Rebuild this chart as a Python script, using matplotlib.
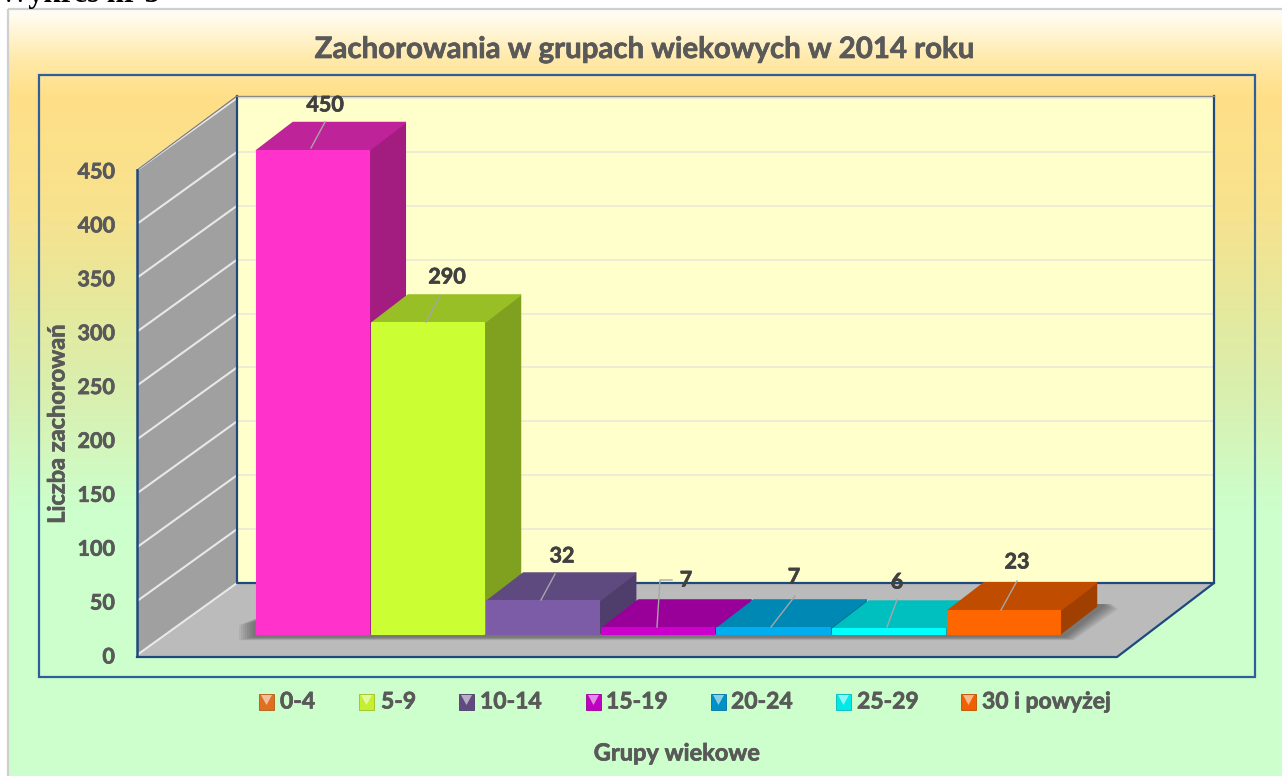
#!/usr/bin/env python3
"""Zachorowania w grupach wiekowych - 3D style column chart."""

import matplotlib

matplotlib.use("Agg")
import matplotlib.pyplot as plt
import matplotlib.patheffects as pe
import numpy as np
from matplotlib.colors import to_rgb
from matplotlib.patches import Polygon, Rectangle

groups = ["0-4", "5-9", "10-14", "15-19", "20-24", "25-29", "30 i powyżej"]
cases = [450, 290, 32, 7, 7, 6, 23]
y_ticks = [0, 50, 100, 150, 200, 250, 300, 350, 400, 450]

W, H = 1282, 776
PX_X0 = 255  # left edge of the first bar
PX_BAR = 115.2
PX_Y0 = 655  # value 0 on the front of the wall
PX_UNIT = 485 / 450

TEXT = "#595959"
BLUE = "#2F5F9A"
DARK_BLUE = "#1F497D"
FONT = ["Lato", "DejaVu Sans"]
# Lato bold is a bit lighter than the original face
HEAVY = [pe.withStroke(linewidth=0.5, foreground=TEXT)]
HEAVY_DARK = [pe.withStroke(linewidth=0.5, foreground="#404040")]

FRONT = ["#FF33CC", "#CCFF33", "#7C5CA6", "#CC00CC", "#00AEEF", "#00FFFF", "#FF6600"]
TOP = ["#BF2399", "#99BF26", "#5F4A80", "#990099", "#0088B4", "#00BFBF", "#C04C00"]
SIDE = ["#A31D80", "#80A020", "#4F3D6C", "#800080", "#007399", "#00A0A0", "#A04000"]
LEGEND = ["#E07020", "#C4F030", "#604A80", "#C000C0", "#0090C8", "#00E8E8", "#F06000"]
# label anchor (px) and elbow for the leader lines
LABEL_POS = [(325, 105), (447, 277), (562, 556), (686, 580), (794, 577), (897, 582), (1017, 562)]
LEADERS = [
    [(311, 148), (325, 122)],
    [(426, 322), (440, 296)],
    [(541, 600), (555, 574)],
    [(657, 627), (660, 580), (672, 580)],
    [(771, 627), (795, 596)],
    [(887, 627), (897, 600)],
    [(1001, 610), (1017, 581)],
]
LEGEND_SWATCH = [259, 359, 459, 586, 711, 836, 961]
LEGEND_TEXT = [280, 381, 480, 606, 731, 857, 982]


def sx(px):
    return (px - PX_X0) / PX_BAR


def sy(py):
    return (PX_Y0 - py) / PX_UNIT


def pts(pairs):
    return [(sx(x), sy(y)) for x, y in pairs]


def draw_background(fig):
    bg = fig.add_axes([0, 0, 1, 1], zorder=0)
    stops_y = [8, 30, 60, 95, 210, 300, 400, 510, 776]
    stops_c = ["#FFFEFA", "#FFF6D8", "#FFE9A8", "#FFDF88", "#F8E28E", "#E6E89C", "#D8F0B0", "#CCFFCC", "#CCFFCC"]
    rows = np.arange(H)
    rgb = np.array([to_rgb(c) for c in stops_c])
    grad = np.stack([np.interp(rows, stops_y, rgb[:, k]) for k in range(3)], axis=1)
    img = np.repeat(grad[:, None, :], W, axis=1)
    img[:8] = 1.0
    img[:, :8] = 1.0
    bg.imshow(img, extent=(0, W, H, 0), aspect="auto", interpolation="bilinear")
    bg.set_xlim(0, W)
    bg.set_ylim(H, 0)
    bg.set_axis_off()
    bg.add_patch(Rectangle((8, 8.5), W + 5, H, fill=False, ec="#CFCFCF", lw=1.6))
    bg.add_patch(Rectangle((38.5, 74.5), 1216, 602, fill=False, ec=BLUE, lw=1.6))


def draw_walls(ax):
    # left wall, floor and back wall
    ax.add_patch(Polygon(pts([(237, 96), (1214, 96), (1214, 583), (237, 583)]), fc="#FFFFCC", ec="none", zorder=1))
    ax.add_patch(Polygon(pts([(137, 655), (237, 583), (237, 96), (137, 170)]), fc="#A0A0A0", ec="none", zorder=1))
    ax.add_patch(Polygon(pts([(137, 656), (237, 583), (1214, 583), (1117, 656)]), fc="#BBBBBB", ec="none", zorder=1))
    for v in y_ticks:
        if v > 0:
            ax.plot([sx(237), sx(1214)], [v + 72 / PX_UNIT] * 2, color="#EFECD6", lw=1.4, zorder=2)
        ax.plot([sx(137), sx(237)], [v, v + 72 / PX_UNIT], color="#E8E8E8", lw=1.5, zorder=2)
    for seg in ([(237, 96), (237, 583), (1214, 583)], [(1214, 96), (1214, 583), (1117, 657), (137, 657)]):
        xy = np.array(pts(seg))
        ax.plot(xy[:, 0], xy[:, 1], color=DARK_BLUE, lw=1.6, zorder=3)
    xy = np.array(pts([(237, 96), (1214, 96)]))
    ax.plot(xy[:, 0], xy[:, 1], color="#8A8A80", lw=1.0, zorder=3)
    xy = np.array(pts([(137, 170), (237, 96)]))
    ax.plot(xy[:, 0], xy[:, 1], color="#777777", lw=0.8, zorder=3)


def draw_shadow(ax):
    grows = np.arange(16, 0, -2)
    for g in grows:
        shape = [(255 - g, 637 + g * 0.2), (1064 + g * 0.6, 637 + g * 0.2),
                 (1102 + g, 606 + g * 0.2), (1102 + g * 0.6, 604), (292, 604), (255 - g, 622 + g * 0.2)]
        ax.add_patch(Polygon(pts(shape), fc="#303030", ec="none", alpha=0.075, zorder=3.2))


def draw_bars(ax):
    base = sy(634.2)
    dx, dy = 36.5 / PX_BAR, 28 / PX_UNIT
    inset = 1.5 / PX_BAR
    for i, v in enumerate(cases):
        z = 4 + i * 0.1
        x0, x1, y0, y1 = i + inset, i + 1 - inset, base, base + v - 1.4 / PX_UNIT
        side = [(x1, y0), (x1 + dx, y0 + dy), (x1 + dx, y1 + dy), (x1, y1)]
        top = [(x0, y1), (x1, y1), (x1 + dx, y1 + dy), (x0 + dx, y1 + dy)]
        front = [(x0, y0), (x1, y0), (x1, y1), (x0, y1)]
        ax.add_patch(Polygon(side, fc=SIDE[i], ec=SIDE[i], lw=1.2, joinstyle="round", zorder=z))
        ax.add_patch(Polygon(top, fc=TOP[i], ec=TOP[i], lw=1.2, joinstyle="round", zorder=z))
        ax.add_patch(Polygon(front, fc=FRONT[i], ec=FRONT[i], lw=1.5, joinstyle="round", zorder=z + 0.01))


def draw_labels(ax):
    for v, pos, leader in zip(cases, LABEL_POS, LEADERS):
        xy = np.array(pts(leader))
        ax.plot(xy[:, 0], xy[:, 1], color="#A6A6A6", lw=1.0, zorder=6)
        ax.text(sx(pos[0]), sy(pos[1]), str(v), ha="center", va="center", fontsize=15.5,
                fontweight="bold", color="#404040", family=FONT, zorder=7, path_effects=HEAVY_DARK)


def draw_legend(ax):
    y = 702
    for name, color, x_sw, x_txt in zip(groups, LEGEND, LEGEND_SWATCH, LEGEND_TEXT):
        c = np.array(to_rgb(color))
        light = c + (1 - c) * 0.55
        ax.add_patch(Polygon(pts([(x_sw, y - 8), (x_sw + 15, y - 8), (x_sw + 15, y + 8), (x_sw, y + 8)]),
                             fc=color, ec=c * 0.8, lw=0.6, zorder=5))
        ax.add_patch(Polygon(pts([(x_sw + 2, y - 7), (x_sw + 13, y - 7), (x_sw + 7.5, y + 3)]),
                             fc=light, ec="none", zorder=6))
        ax.text(sx(x_txt), sy(y), name, ha="left", va="center", fontsize=16.5, fontweight="bold",
                color=TEXT, family=FONT, zorder=6, path_effects=HEAVY)


def main():
    fig = plt.figure(figsize=(W / 100, H / 100), dpi=100, facecolor="white")
    draw_background(fig)

    ax = fig.add_axes([0, 0, 1, 1], zorder=1)
    ax.patch.set_visible(False)
    ax.set_xlim(sx(0), sx(W))
    ax.set_ylim(sy(H), sy(0))

    draw_walls(ax)
    draw_shadow(ax)
    draw_bars(ax)
    draw_labels(ax)
    draw_legend(ax)

    for name in ("top", "right", "bottom"):
        ax.spines[name].set_visible(False)
    ax.spines["left"].set_position(("data", sx(137)))
    ax.spines["left"].set_bounds(0, 450)
    ax.spines["left"].set_color(DARK_BLUE)
    ax.spines["left"].set_linewidth(1.8)
    ax.spines["left"].set_zorder(3)
    ax.set_xticks([])
    ax.set_yticks(y_ticks)
    ax.tick_params(axis="y", length=0, pad=16, labelsize=15.5, labelcolor=TEXT)
    for label in ax.get_yticklabels():
        label.set_fontweight("bold")
        label.set_family(FONT)
        label.set_path_effects(HEAVY)

    ax.text(sx(643.5), sy(50), "Zachorowania w grupach wiekowych w 2014 roku", ha="center", va="center",
            fontsize=21.2, fontweight="bold", color=TEXT, family=FONT, path_effects=HEAVY)
    ax.text(sx(57), sy(424), "Liczba zachorowań", rotation=90, ha="center", va="center",
            fontsize=17, fontweight="bold", color=TEXT, family=FONT, path_effects=HEAVY)
    ax.text(sx(677), sy(753), "Grupy wiekowe", ha="center", va="center",
            fontsize=17, fontweight="bold", color=TEXT, family=FONT, path_effects=HEAVY)
    ax.text(sx(-1), sy(2), "Wykres nr 5", ha="left", va="baseline", fontsize=22, fontweight="bold",
            color="black", family=["Liberation Serif", "DejaVu Serif"])

    fig.savefig("out.png", dpi=100)


if __name__ == "__main__":
    main()
